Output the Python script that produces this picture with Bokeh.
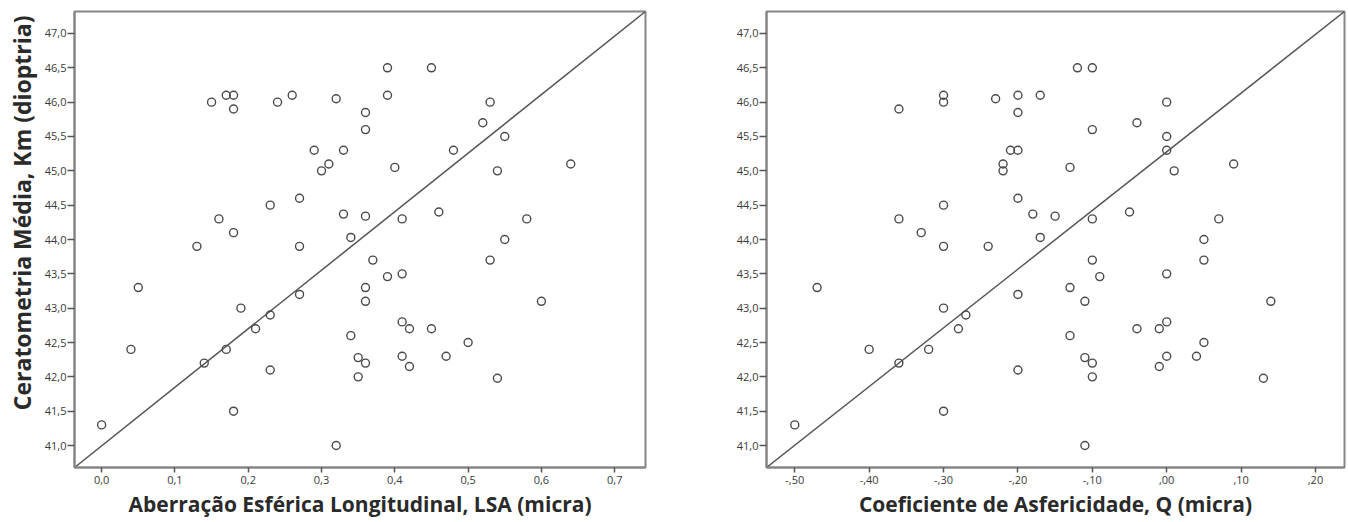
from bokeh.plotting import figure
from bokeh.layouts import row
from bokeh.models import FixedTicker, Title, Range1d
from bokeh.embed import file_html
from bokeh.resources import INLINE

# ---- data: left panel (LSA vs Km) ----
lsa = [0.00, 0.04, 0.05, 0.14, 0.17, 0.18, 0.19, 0.21, 0.23, 0.23, 0.27, 0.32,
       0.15, 0.17, 0.18, 0.18, 0.24, 0.26, 0.32, 0.29, 0.33, 0.30, 0.31, 0.23,
       0.27, 0.33, 0.16, 0.18, 0.13, 0.27, 0.34, 0.39, 0.45, 0.39, 0.36, 0.36,
       0.40, 0.53, 0.52, 0.55, 0.48, 0.54, 0.64, 0.36, 0.41, 0.46, 0.58, 0.55,
       0.37, 0.53, 0.39, 0.41, 0.36, 0.36, 0.60, 0.41, 0.42, 0.45, 0.34, 0.50,
       0.35, 0.36, 0.41, 0.42, 0.47, 0.35, 0.54]
km_lsa = [41.3, 42.4, 43.3, 42.2, 42.4, 41.5, 43.0, 42.7, 42.9, 42.1, 43.2, 41.0,
          46.0, 46.1, 46.1, 45.9, 46.0, 46.1, 46.05, 45.3, 45.3, 45.0, 45.1, 44.5,
          44.6, 44.37, 44.3, 44.1, 43.9, 43.9, 44.03, 46.5, 46.5, 46.1, 45.85, 45.6,
          45.05, 46.0, 45.7, 45.5, 45.3, 45.0, 45.1, 44.34, 44.3, 44.4, 44.3, 44.0,
          43.7, 43.7, 43.46, 43.5, 43.3, 43.1, 43.1, 42.8, 42.7, 42.7, 42.6, 42.5,
          42.28, 42.2, 42.3, 42.15, 42.3, 42.0, 41.98]

# ---- data: right panel (Q vs Km) ----
q = [-0.36, -0.30, -0.30, -0.23, -0.20, -0.20, -0.21, -0.20, -0.22, -0.22,
     -0.20, -0.30, -0.36, -0.33, -0.30, -0.24, -0.47, -0.30, -0.27, -0.28,
     -0.40, -0.32, -0.36, -0.30, -0.50, -0.20, -0.20, -0.12, -0.10, -0.17,
     0.00, -0.04, -0.10, 0.00, 0.00, -0.13, 0.01, 0.09, -0.18, -0.15,
     -0.10, -0.05, 0.07, -0.17, 0.05, -0.10, 0.05, -0.09, 0.00, -0.13,
     -0.11, 0.14, 0.00, -0.01, -0.04, -0.13, 0.05, -0.11, -0.10, 0.00,
     0.04, -0.01, -0.10, 0.13, -0.11]
km_q = [45.9, 46.1, 46.0, 46.05, 46.1, 45.85, 45.3, 45.3, 45.1, 45.0,
        44.6, 44.5, 44.3, 44.1, 43.9, 43.9, 43.3, 43.0, 42.9, 42.7,
        42.4, 42.4, 42.2, 41.5, 41.3, 43.2, 42.1, 46.5, 46.5, 46.1,
        46.0, 45.7, 45.6, 45.5, 45.3, 45.05, 45.0, 45.1, 44.37, 44.34,
        44.3, 44.4, 44.3, 44.03, 44.0, 43.7, 43.7, 43.46, 43.5, 43.3,
        43.1, 43.1, 42.8, 42.7, 42.7, 42.6, 42.5, 42.28, 42.2, 42.3,
        42.3, 42.15, 42.0, 41.98, 41.0]

# ---- ticks ----
y_ticks = [41.0, 41.5, 42.0, 42.5, 43.0, 43.5, 44.0, 44.5, 45.0, 45.5, 46.0, 46.5, 47.0]
y_tick_labels = ["41,0", "41,5", "42,0", "42,5", "43,0", "43,5", "44,0",
                 "44,5", "45,0", "45,5", "46,0", "46,5", "47,0"]
lsa_ticks = [0.0, 0.1, 0.2, 0.3, 0.4, 0.5, 0.6, 0.7]
lsa_tick_labels = ["0,0", "0,1", "0,2", "0,3", "0,4", "0,5", "0,6", "0,7"]
q_ticks = [-0.5, -0.4, -0.3, -0.2, -0.1, 0.0, 0.1, 0.2]
q_tick_labels = ["-,50", "-,40", "-,30", "-,20", "-,10", ",00", ",10", ",20"]

y_label = "Ceratometria Média, Km (dioptria)"
lsa_label = "Aberração Esférica Longitudinal, LSA (micra)"
q_label = "Coeficiente de Asfericidade, Q (micra)"

Y_RANGE = (40.68, 47.32)
FONT = "Open Sans"
GREY = "#858585"
H = 521


def make(x, y, xr, xt, xtl, xlabel, width, mbl, mbr, ylabel=None):
    p = figure(width=width, height=H, output_backend="svg", toolbar_location=None,
               x_range=Range1d(*xr), y_range=Range1d(*Y_RANGE),
               min_border_left=mbl, min_border_right=mbr,
               min_border_top=11, min_border_bottom=54)
    p.grid.visible = False
    p.outline_line_color = GREY
    p.outline_line_width = 2
    p.background_fill_color = "white"
    p.border_fill_color = "white"

    for ax, ticks, labels in ((p.xaxis[0], xt, xtl), (p.yaxis[0], y_ticks, y_tick_labels)):
        ax.ticker = FixedTicker(ticks=ticks)
        ax.major_label_overrides = dict(zip(ticks, labels))
        ax.minor_tick_line_color = None
        ax.major_tick_in = 0
        ax.major_tick_line_color = "#555555"
        ax.major_tick_line_width = 1.5
        ax.axis_line_color = GREY
        ax.axis_line_width = 2
        ax.major_label_text_font = FONT
        ax.major_label_text_font_size = "11px"
        ax.major_label_text_color = "#3a3a3a"
    p.xaxis.major_tick_out = 5
    p.xaxis.major_label_standoff = 3
    p.yaxis.major_tick_out = 7
    p.yaxis.major_label_standoff = 1

    p.xaxis.axis_label = xlabel
    p.xaxis.axis_label_text_font = FONT
    p.xaxis.axis_label_text_font_style = "bold"
    p.xaxis.axis_label_text_font_size = "21px"
    p.xaxis.axis_label_text_color = "#2a2a2a"
    p.xaxis.axis_label_standoff = 3

    if ylabel:
        t = Title(text=ylabel, align="right", offset=4, text_font=FONT,
                  text_font_style="bold", text_font_size="23px",
                  text_color="#2a2a2a", standoff=7)
        p.add_layout(t, "left")

    # corner-to-corner reference line
    p.line([xr[0], xr[1]], [Y_RANGE[0], Y_RANGE[1]], line_color="#555555", line_width=1.5)
    p.scatter(x, y, marker="circle", size=8, fill_color=None,
              line_color="#4a4a4a", line_width=1.4)
    return p


p1 = make(lsa, km_lsa, (-0.037, 0.742), lsa_ticks, lsa_tick_labels, lsa_label,
          700, 73, 55, ylabel=y_label)
p2 = make(q, km_q, (-0.538, 0.239), q_ticks, q_tick_labels, q_label,
          646, 66, 2)

layout = row(p1, p2)
open("out.html", "w").write(file_html(layout, INLINE))
